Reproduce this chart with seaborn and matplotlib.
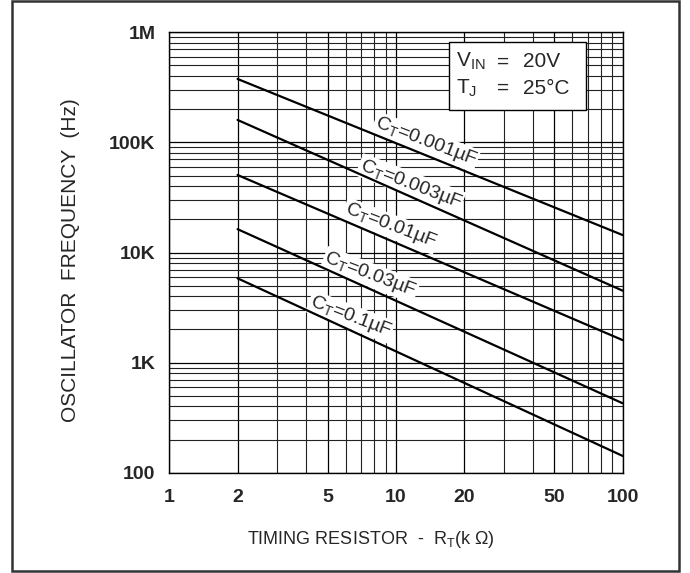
#!/usr/bin/env python3
import pandas as pd
import seaborn as sns
import matplotlib.pyplot as plt
from matplotlib.patches import Rectangle
from matplotlib.ticker import FixedLocator, LogLocator, NullFormatter

# values (kOhm -> Hz)
rt_kohm = [2, 100]
f_ct_0001 = [377e3, 14.4e3]
f_ct_0003 = [160e3, 4.5e3]
f_ct_001 = [50.6e3, 1.6e3]
f_ct_003 = [16.3e3, 427]
f_ct_01 = [5.83e3, 142]
ct_values = ["0.001", "0.003", "0.01", "0.03", "0.1"]

x_ticks = [1, 2, 5, 10, 20, 50, 100]
x_tick_labels = ["1", "2", "5", "10", "20", "50", "100"]
y_ticks = [100, 1e3, 1e4, 1e5, 1e6]
y_tick_labels = ["100", "1K", "10K", "100K", "1M"]

# where the curve captions sit (data coords)
label_pos = [(13.5, 101e3), (11.6, 41.9e3), (9.45, 17.4e3), (7.7, 6.25e3), (6.3, 2.61e3)]


def main():
    sns.set_theme(style="white")
    plt.rcParams["font.family"] = ["Liberation Sans", "DejaVu Sans"]
    plt.rcParams["mathtext.fontset"] = "custom"
    plt.rcParams["mathtext.rm"] = "Liberation Sans"

    series = [f_ct_0001, f_ct_0003, f_ct_001, f_ct_003, f_ct_01]
    rows = []
    for ct, vals in zip(ct_values, series):
        for r, f in zip(rt_kohm, vals):
            rows.append({"rt": r, "freq": f, "ct": ct})
    df = pd.DataFrame(rows)

    fig = plt.figure(figsize=(6.9, 5.73), dpi=100)
    ax = fig.add_axes([0.2454, 0.175, 0.6571, 0.7686])

    sns.lineplot(data=df, x="rt", y="freq", hue="ct", ax=ax, legend=False,
                 palette=["black"] * len(ct_values), linewidth=1.6, zorder=5)

    ax.set_xscale("log")
    ax.set_yscale("log")
    ax.set_xlim(1, 100)
    ax.set_ylim(100, 1e6)

    ax.xaxis.set_major_locator(FixedLocator(x_ticks))
    ax.set_xticklabels(x_tick_labels)
    ax.xaxis.set_minor_locator(LogLocator(base=10, subs=range(2, 10)))
    ax.xaxis.set_minor_formatter(NullFormatter())
    ax.yaxis.set_major_locator(FixedLocator(y_ticks))
    ax.set_yticklabels(y_tick_labels)
    ax.yaxis.set_minor_locator(LogLocator(base=10, subs=range(2, 10)))
    ax.yaxis.set_minor_formatter(NullFormatter())

    ax.grid(which="major", color="black", linewidth=0.9)
    ax.grid(which="minor", color="#222222", linewidth=0.8)
    ax.tick_params(which="both", length=0)
    ax.tick_params(axis="x", pad=12, labelsize=14)
    ax.tick_params(axis="y", pad=10, labelsize=14)
    for lab in ax.get_xticklabels() + ax.get_yticklabels():
        lab.set_fontweight("bold")
    for sp in ax.spines.values():
        sp.set_color("black")
        sp.set_linewidth(1.0)

    ax.set_xlabel("TIMING RESISTOR  -  R$\\mathregular{_T}$(k Ω)", fontsize=13)
    ax.xaxis.set_label_coords(0.445, -0.128)
    ax.set_ylabel("OSCILLATOR  FREQUENCY  (Hz)", fontsize=15)
    ax.yaxis.set_label_coords(-0.197, 0.483)

    for ct, (lx, ly) in zip(ct_values, label_pos):
        ax.text(lx, ly, "C$\\mathregular{_T}$=" + ct + "µF", fontsize=14,
                rotation=-21, ha="center", va="center", zorder=4,
                bbox=dict(facecolor="white", edgecolor="none", pad=1.0))

    # conditions box
    ax.add_patch(Rectangle((0.617, 0.824), 0.302, 0.153, transform=ax.transAxes,
                           facecolor="white", edgecolor="black", linewidth=1.0, zorder=4))
    for yy, name, val in [(0.933, "V$\\mathregular{_{IN}}$", "20V"),
                          (0.873, "T$\\mathregular{_J}$", "25°C")]:
        ax.text(0.632, yy, name, transform=ax.transAxes, fontsize=15, ha="left", va="center", zorder=6)
        ax.text(0.736, yy, "=", transform=ax.transAxes, fontsize=15, ha="center", va="center", zorder=6)
        ax.text(0.781, yy, val, transform=ax.transAxes, fontsize=15, ha="left", va="center", zorder=6)

    # outer frame around the whole figure
    fig.add_artist(Rectangle((12 / 690, 2 / 573), 667 / 690, 570 / 573, transform=fig.transFigure,
                             fill=False, edgecolor="#333333", linewidth=1.8))

    fig.savefig("out.png", dpi=100)


if __name__ == "__main__":
    main()
